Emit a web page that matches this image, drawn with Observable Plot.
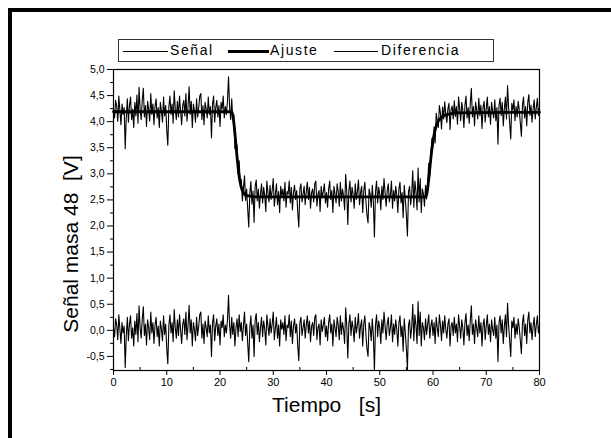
<!DOCTYPE html>
<html><head><meta charset="utf-8">
<script src="https://cdn.jsdelivr.net/npm/d3@7"></script>
<script src="https://cdn.jsdelivr.net/npm/@observablehq/plot@0.6"></script>
<style>
body{margin:0;background:#fff;}
#wrap{position:relative;width:611px;height:438px;overflow:hidden;font-family:"Liberation Sans",Arial,sans-serif;background:#fff;}
#chart{position:absolute;left:0;top:0;}
#borde{position:absolute;left:8px;top:8px;width:700px;height:500px;border-left:4px solid #000;border-top:4px solid #000;}
#leyenda{position:absolute;left:118px;top:39px;width:376px;height:23px;border:1px solid #333;box-sizing:border-box;font-size:14px;letter-spacing:1.6px;background:#fff;color:#000;}
.item{position:absolute;top:0;height:21px;line-height:21px;white-space:nowrap;}
.muestra{position:absolute;top:10px;border-top:1px solid #000;}
</style>
</head><body>
<div id="wrap">
  <div id="chart"></div>
  <div id="borde"></div>
  <div id="leyenda"></div>
</div>
<script>
// Diferencia (Señal - Ajuste), muestreada cada 0,2 s de 0 a 80 s
const diferencia = [
 0.05,-0.12,0.22,0.1,-0.18,0.3,0.02,-0.25,0.15,-0.05,0.08,-0.71,-0.1,0.25,-0.2,0.12,0.28,-0.15,0.05,-0.3,
 0.18,-0.08,0.32,-0.22,0.47,0.05,-0.15,0.22,0.45,-0.1,0.12,-0.28,0.2,0.05,-0.18,0.35,-0.05,0.15,-0.25,0.1,
 0.25,-0.12,0.08,-0.3,0.18,0.02,-0.2,0.28,-0.08,0.12,-0.35,-0.64,0.1,0.3,-0.05,0.15,-0.22,0.4,0.05,-0.15,
 0.2,-0.1,0.3,0.0,-0.25,0.12,0.22,-0.08,0.35,-0.18,0.1,0.48,-0.05,0.2,-0.3,0.15,0.02,-0.2,0.25,-0.1,
 0.08,0.3,0.35,-0.15,0.12,-0.25,0.18,0.05,-0.12,0.28,-0.05,0.1,-0.5,0.15,0.3,-0.2,0.08,0.22,-0.1,0.12,
 -0.28,0.18,0.05,0.3,-0.12,0.1,-0.05,0.2,0.67,0.1,-0.15,0.25,-0.08,0.15,-0.3,0.05,0.22,-0.12,0.3,-0.02,
 0.15,-0.2,0.08,0.35,-0.1,0.12,-0.25,-0.6,0.05,0.28,-0.15,0.1,-0.5,0.2,0.32,-0.08,0.15,-0.22,0.05,0.25,
 -0.12,0.18,0.02,-0.28,0.3,0.08,-0.1,0.22,-0.05,0.12,0.35,-0.18,0.05,0.25,-0.15,0.1,-0.3,0.2,0.02,0.15,
 -0.08,0.28,-0.2,0.1,0.05,0.3,-0.12,0.18,-0.25,0.08,0.22,-0.05,0.12,-0.3,-0.58,0.15,0.25,-0.1,0.05,0.2,
 -0.15,0.1,0.28,-0.05,0.18,-0.22,0.08,0.15,-0.1,0.25,0.3,-0.18,0.05,0.12,-0.28,0.2,-0.02,0.1,0.25,-0.12,
 0.08,-0.2,0.15,0.3,-0.05,0.12,-0.3,0.2,0.05,-0.12,0.25,0.1,-0.18,0.28,-0.08,0.15,0.02,-0.25,0.43,0.1,
 -0.53,0.12,0.3,-0.1,0.18,0.05,-0.22,0.25,-0.05,0.1,0.32,-0.15,0.08,0.2,-0.3,0.12,0.28,-0.08,-0.35,-0.5,
 0.15,0.05,-0.2,0.22,-0.1,-0.77,0.1,0.3,-0.12,0.18,0.05,-0.25,0.2,-0.05,0.35,0.08,-0.18,0.12,0.25,-0.1,
 0.05,0.3,-0.22,0.12,-0.08,0.2,0.02,-0.3,0.15,0.28,-0.12,0.08,-0.4,0.22,-0.05,-0.35,-0.75,0.1,0.2,-0.15,
 0.05,0.5,-0.2,0.3,0.1,-0.25,0.55,-0.1,0.35,-0.3,0.15,0.05,-0.18,0.22,-0.08,0.12,0.3,-0.15,0.08,0.2,
 -0.1,0.15,-0.25,0.25,0.05,-0.12,0.3,0.1,-0.2,0.18,-0.05,0.28,0.02,-0.15,0.12,0.22,-0.3,0.08,0.15,-0.1,
 0.25,-0.05,0.12,-0.22,0.3,0.08,-0.15,0.2,0.05,-0.28,0.15,0.32,-0.1,0.1,-0.2,0.18,0.47,-0.08,0.12,-0.25,
 0.2,0.05,-0.12,0.28,-0.05,0.15,-0.3,0.1,0.22,-0.18,0.08,0.3,-0.08,0.12,-0.22,0.2,0.02,-0.1,0.25,-0.15,
 0.1,-0.6,0.15,0.28,-0.05,0.2,-0.25,0.08,0.3,-0.12,0.52,0.1,-0.2,-0.5,0.18,0.05,0.25,-0.15,0.12,-0.08,
 0.22,0.05,-0.2,-0.45,0.15,0.3,-0.1,0.12,-0.25,0.2,0.35,-0.05,0.15,-0.18,0.08,0.25,-0.12,0.1,0.28,-0.05,
 0.1
];
const paso = 0.2;

// Ajuste: puntos de la curva ajustada (tiempo [s], señal [V])
const ajusteT = [0,22.2,22.4,22.6,22.8,23.0,23.2,23.4,23.6,23.8,24.0,24.2,24.4,24.6,24.8,25.2,25.8,26.6,
                 58.6,58.8,59.0,59.2,59.4,59.6,59.8,60.0,60.2,60.4,60.6,60.8,61.0,61.4,61.8,62.4,63.2,64.4,80];
const ajusteV = [4.19,4.19,4.12,3.98,3.78,3.55,3.32,3.12,2.95,2.83,2.74,2.68,2.64,2.61,2.59,2.58,2.57,2.56,
                 2.56,2.6,2.72,2.9,3.1,3.3,3.48,3.63,3.75,3.84,3.91,3.97,4.01,4.06,4.1,4.13,4.15,4.17,4.18];

// Ticks
const xMayores = [0,10,20,30,40,50,60,70,80];
const xMenores = [5,15,25,35,45,55,65,75];
const yMayores = [-0.5,0,0.5,1,1.5,2,2.5,3,3.5,4,4.5,5];
const yMenores = [-0.75,-0.25,0.25,0.75,1.25,1.75,2.25,2.75,3.25,3.75,4.25,4.75];

const leyendaTextos = ["Señal","Ajuste","Diferencia"];
const tituloX = "Tiempo\u00a0\u00a0\u00a0[s]";
const tituloY = "Señal masa 48\u00a0\u00a0[V]";

const tiempo = diferencia.map((_, i) => +(i * paso).toFixed(1));
function ajusteEn(t) {
  let v = ajusteV[0];
  for (let j = 0; j < ajusteT.length; j++) if (ajusteT[j] <= t + 1e-9) v = ajusteV[j];
  return v;
}
const senal = tiempo.map((t, i) => ajusteEn(t) + diferencia[i]);
const idx = d3.range(tiempo.length);
const idxA = d3.range(ajusteT.length);
const fmt = d => d.toFixed(1).replace(".", ",");

const chart = Plot.plot({
  width: 611, height: 438,
  marginLeft: 113, marginRight: 72, marginTop: 69, marginBottom: 68,
  x: {domain: [0, 80]},
  y: {domain: [-0.77, 5]},
  style: {fontFamily: "'Liberation Sans', Arial, sans-serif", color: "black", background: "transparent", overflow: "visible"},
  marks: [
    Plot.line(idx, {x: i => tiempo[i], y: i => senal[i], stroke: "black", strokeWidth: 1.1}),
    Plot.line(idx, {x: i => tiempo[i], y: i => diferencia[i], stroke: "black", strokeWidth: 1.1}),
    Plot.line(idxA, {x: i => ajusteT[i], y: i => ajusteV[i], stroke: "black", strokeWidth: 2.8, curve: "monotone-x"}),
    Plot.frame({stroke: "black", strokeWidth: 1.2}),
    Plot.axisY({ticks: yMayores, tickSize: 6, tickPadding: 3, tickFormat: fmt, label: null, fontSize: 10.5}),
    Plot.axisY({ticks: yMenores, tickSize: 3, tickFormat: () => "", label: null}),
    Plot.axisX({ticks: xMayores, tickSize: 5, tickPadding: 3, tickFormat: d => String(d), label: null, fontSize: 11}),
    Plot.axisX({ticks: xMenores, tickSize: -3, tickFormat: () => "", label: null}),
    Plot.text([tituloX], {frameAnchor: "bottom", lineAnchor: "middle", textAnchor: "middle", dy: 35, fontSize: 21, fill: "black"}),
    Plot.text([tituloY], {frameAnchor: "left", lineAnchor: "middle", textAnchor: "middle", dx: -42, dy: 24, rotate: -90, fontSize: 21, fill: "black"})
  ]
});
document.getElementById("chart").appendChild(chart);

// Leyenda
const ley = document.getElementById("leyenda");
const items = [
  {linea: [4, 45, 1], texto: 51},
  {linea: [109, 41, 3], texto: 151},
  {linea: [215, 44, 1], texto: 262}
];
items.forEach((it, k) => {
  const m = document.createElement("div");
  m.className = "muestra";
  m.style.left = it.linea[0] + "px";
  m.style.width = it.linea[1] + "px";
  m.style.borderTopWidth = it.linea[2] + "px";
  m.style.top = (11 - Math.floor(it.linea[2] / 2)) + "px";
  ley.appendChild(m);
  const t = document.createElement("div");
  t.className = "item";
  t.style.left = it.texto + "px";
  t.textContent = leyendaTextos[k];
  ley.appendChild(t);
});
</script>
</body></html>
